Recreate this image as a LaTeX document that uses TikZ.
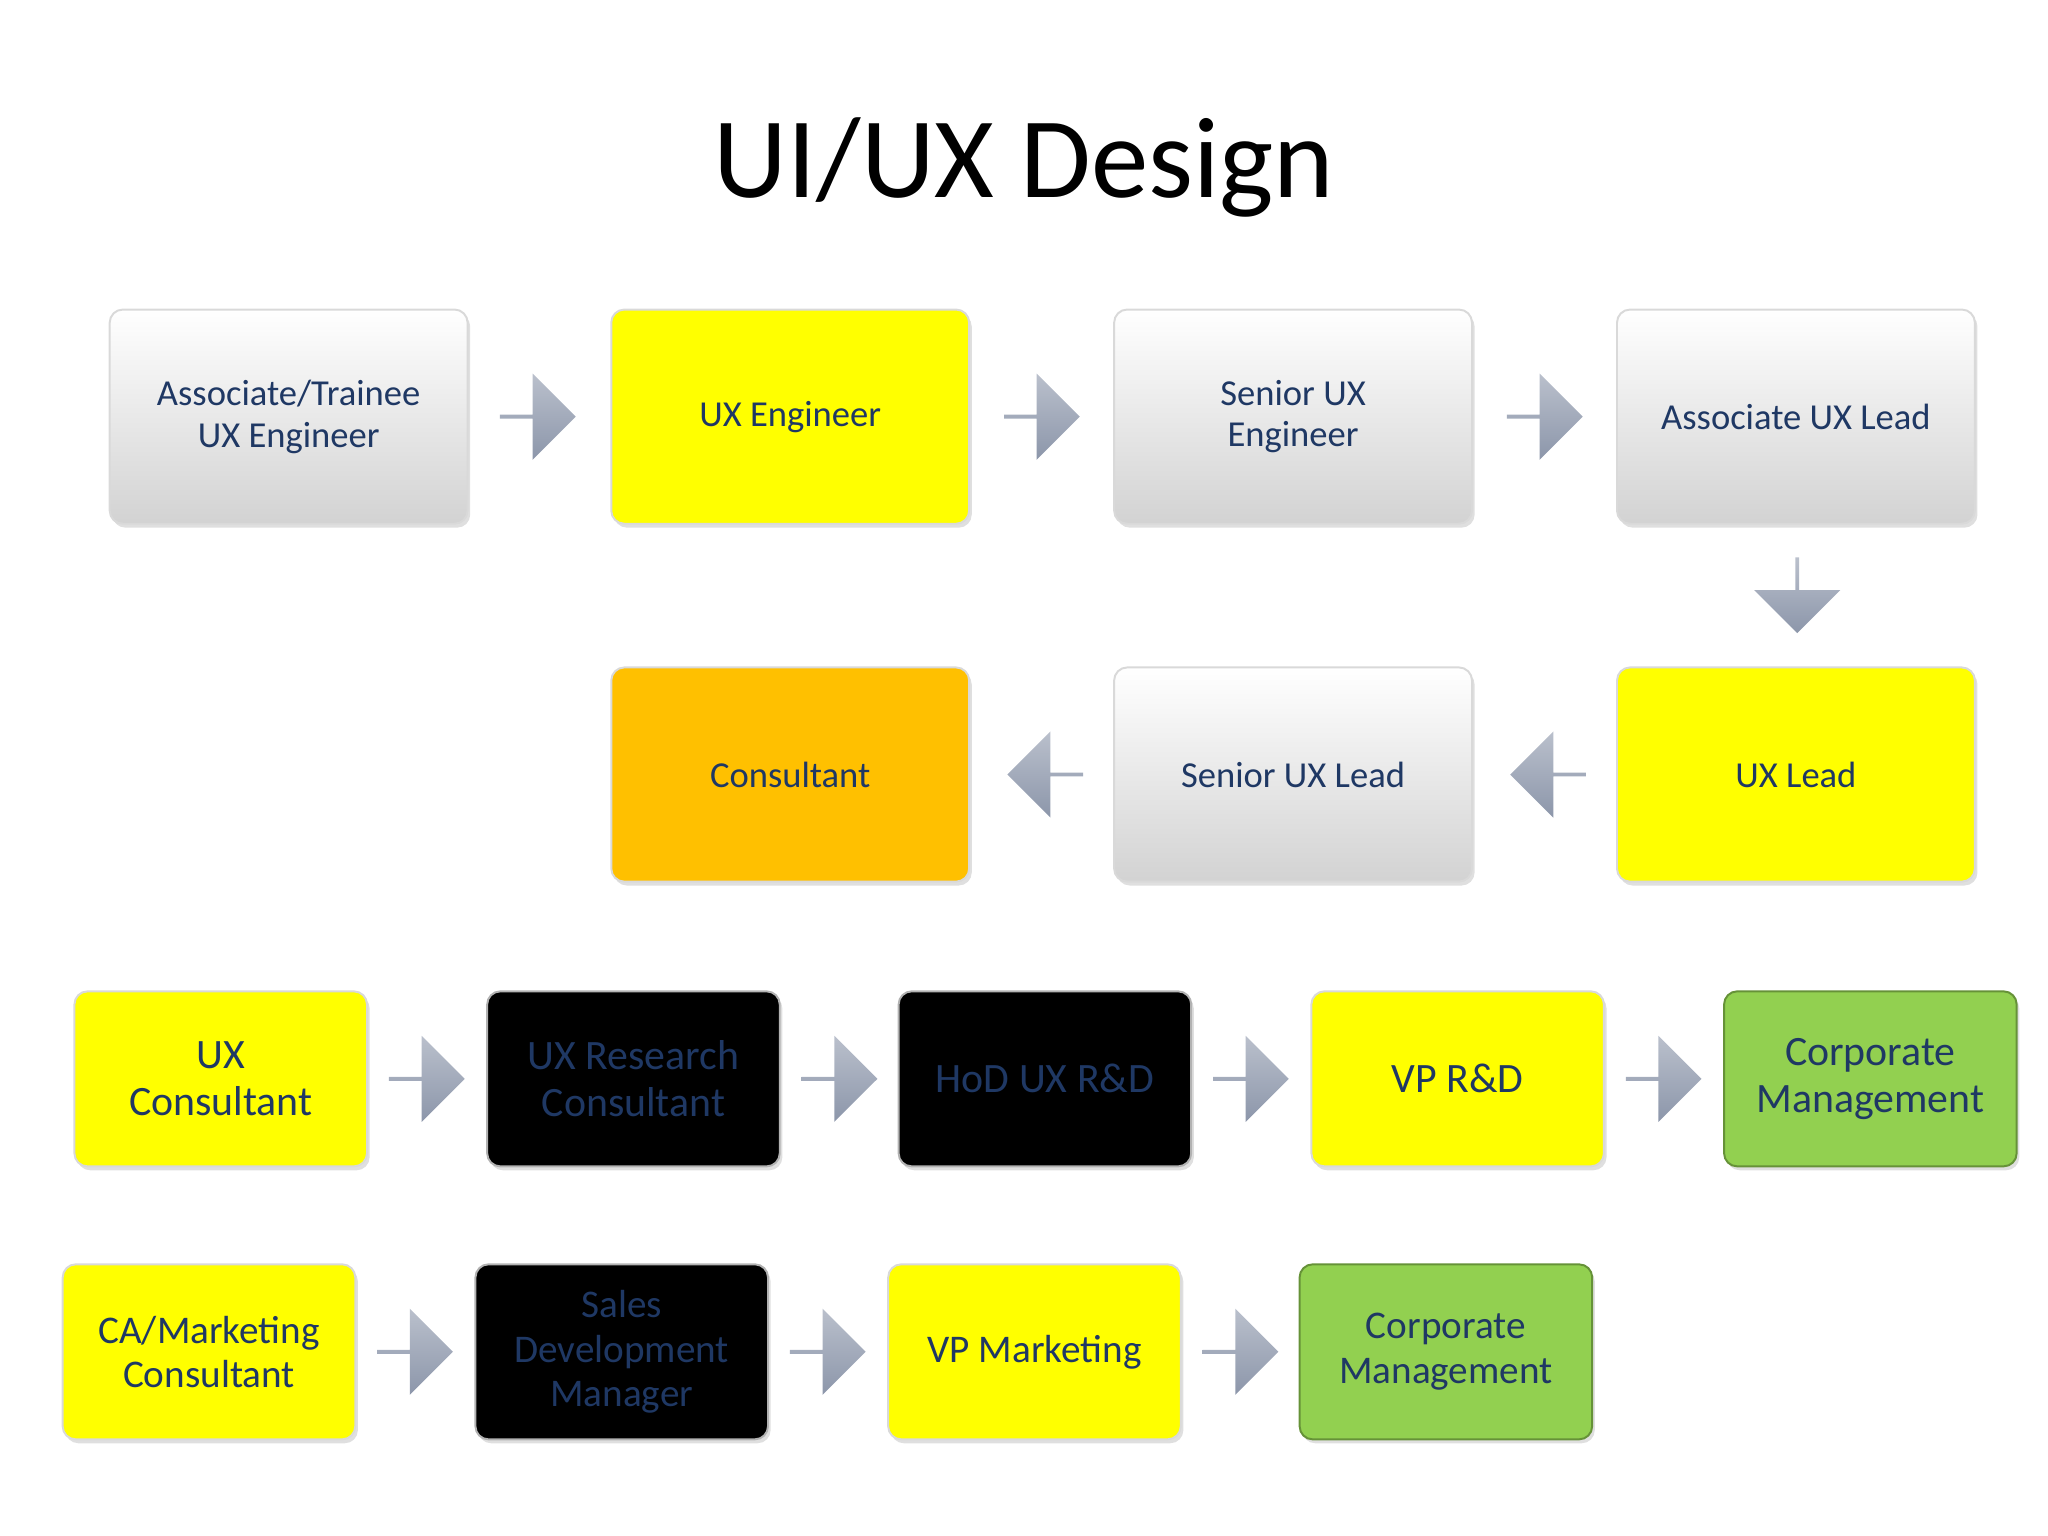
\documentclass[tikz,border=0pt]{standalone}
\usepackage{fontspec}
\setmainfont{Carlito}
\usetikzlibrary{shapes.arrows,shadows}
\definecolor{txtblue}{RGB}{31,56,100}
\definecolor{boxyellow}{RGB}{255,255,0}
\definecolor{boxorange}{RGB}{255,192,0}
\definecolor{boxgreen}{RGB}{146,208,80}
\definecolor{arrgray}{RGB}{140,150,170}
\tikzset{every picture/.style={line width=0.75pt}}
\tikzset{
  careerbox/.style={draw=gray!30, rounded corners=5pt, align=center, text=txtblue,
    font=\fontsize{14}{16}\selectfont, drop shadow={opacity=0.25,shadow xshift=1pt,shadow yshift=-1.5pt}},
  grey/.style={careerbox, top color=white, bottom color=gray!35},
  yell/.style={careerbox, fill=boxyellow},
  oran/.style={careerbox, fill=boxorange},
  blk/.style={careerbox, fill=black, draw=gray!60},
  gren/.style={careerbox, fill=boxgreen, draw=boxgreen!70!black},
  big/.style={minimum width=137pt, minimum height=82pt},
  small/.style={minimum width=112pt, minimum height=67pt, font=\fontsize{16}{18}\selectfont},
  blockarrow/.style={single arrow, draw=none, top color=arrgray!60, bottom color=arrgray,
    minimum height=29pt, minimum width=33pt, single arrow head extend=8pt, inner sep=0pt}
}
\begin{document}
\begin{tikzpicture}[x=0.5pt,y=0.5pt,yscale=-1]
\useasboundingbox (0,0) rectangle (1568,1176);

% Title
\node (title) at (784,128) {\fontsize{44}{50}\selectfont UI/UX Design};

% Row 1
\node[grey,big] (trainee) at (221,319) {Associate/Trainee\\UX Engineer};
\node[yell,big] (uxeng) at (605,319) {UX Engineer};
\node[grey,big] (senioreng) at (990,319) {Senior UX\\Engineer};
\node[grey,big] (assoclead) at (1375,319) {Associate UX Lead};
\node[blockarrow] (a1) at (411,319) {};
\node[blockarrow] (a2) at (797,319) {};
\node[blockarrow] (a3) at (1182,319) {};
\node[blockarrow, rotate=-90] (a4) at (1376,455) {};

% Row 2
\node[yell,big] (uxlead) at (1375,593) {UX Lead};
\node[grey,big] (seniorlead) at (990,593) {Senior UX Lead};
\node[oran,big] (consult) at (605,593) {Consultant};
\node[blockarrow, rotate=180] (a5) at (1186,593) {};
\node[blockarrow, rotate=180] (a6) at (801,593) {};

% Row 3
\node[yell,small] (uxcons) at (169,826) {UX\\Consultant};
\node[blk,small] (research) at (485,826) {UX Research\\Consultant};
\node[blk,small] (hod) at (800,826) {HoD UX R\&D};
\node[yell,small] (vprd) at (1116,826) {VP R\&D};
\node[gren,small] (corp1) at (1432,826) {Corporate\\Management};
\node[blockarrow] (b1) at (326,826) {};
\node[blockarrow] (b2) at (642,826) {};
\node[blockarrow] (b3) at (957,826) {};
\node[blockarrow] (b4) at (1273,826) {};

% Row 4
\node[yell,small,font=\fontsize{15}{17}\selectfont] (camkt) at (160,1035) {CA/Marketing\\Consultant};
\node[blk,small,font=\fontsize{15}{17}\selectfont] (sales) at (476,1035) {Sales\\Development\\Manager};
\node[yell,small,font=\fontsize{15}{17}\selectfont] (vpmkt) at (792,1035) {VP Marketing};
\node[gren,small,font=\fontsize{15}{17}\selectfont] (corp2) at (1107,1035) {Corporate\\Management};
\node[blockarrow] (c1) at (317,1035) {};
\node[blockarrow] (c2) at (633,1035) {};
\node[blockarrow] (c3) at (949,1035) {};
\end{tikzpicture}
\end{document}
